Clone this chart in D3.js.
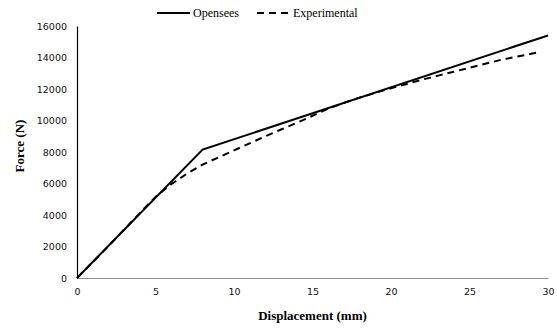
<!DOCTYPE html>
<html>
<head>
<meta charset="utf-8">
<script src="https://cdn.jsdelivr.net/npm/d3@7"></script>
<style>
  body { margin: 0; background: #fff; }
  svg { display: block; }
</style>
</head>
<body>
<svg id="chart" width="557" height="329"></svg>
<script>
"use strict";

// data
const xTicks = [0, 5, 10, 15, 20, 25, 30];
const yTicks = [0, 2000, 4000, 6000, 8000, 10000, 12000, 14000, 16000];

const openseesDisp = [0, 8, 30];
const openseesForce = [0, 8150, 15400];

const expDisp = [0, 1, 2, 3, 4, 5, 6, 7, 8, 9, 10, 11, 12, 13, 14, 15, 16, 17, 18, 19, 20, 21, 22, 23, 24, 25, 26, 27, 28, 29, 29.5];
const expForce = [0, 1000, 2020, 3070, 4120, 5150, 5950, 6620, 7200, 7650, 8100, 8550, 9000, 9430, 9850, 10300, 10750, 11120, 11450, 11750, 12050, 12320, 12600, 12850, 13100, 13350, 13600, 13850, 14050, 14250, 14350];

const seriesNames = ["Opensees", "Experimental"];


// layout
const margin = {left: 77, right: 9, top: 26, bottom: 51};
const width = 557, height = 329;

const svg = d3.select("#chart");

const scaleX = d3.scaleLinear().domain([0, 30]).range([margin.left, width - margin.right]);
const scaleY = d3.scaleLinear().domain([0, 16000]).range([height - margin.bottom, margin.top]);


// y axis
const yAxis = svg.append("g")
    .attr("class", "y_axis")
    .attr("transform", `translate(${margin.left}, 0)`)
    .call(d3.axisLeft(scaleY).tickValues(yTicks).tickSize(0).tickPadding(10).tickFormat(d3.format("d")));
yAxis.select(".domain").attr("stroke", "#000").attr("stroke-width", 1.2);
yAxis.selectAll("text")
    .attr("font-family", "DejaVu Sans, sans-serif")
    .attr("font-size", 9.5)
    .attr("fill", "#111");


// x axis
const xAxis = svg.append("g")
    .attr("class", "x_axis")
    .attr("transform", `translate(0, ${scaleY(0)})`)
    .call(d3.axisBottom(scaleX).tickValues(xTicks).tickSize(0).tickPadding(10));
xAxis.select(".domain").attr("stroke", "#8c8c8c").attr("stroke-width", 1);
xAxis.selectAll("text")
    .attr("font-family", "DejaVu Sans, sans-serif")
    .attr("font-size", 9.5)
    .attr("fill", "#111");


// axis titles
svg.append("text")
    .attr("x", (scaleX(0) + scaleX(30)) / 2)
    .attr("y", 320)
    .attr("text-anchor", "middle")
    .attr("font-family", "Liberation Serif, serif")
    .attr("font-weight", "bold")
    .attr("font-size", 13)
    .text("Displacement (mm)");

svg.append("text")
    .attr("transform", `translate(24, ${(scaleY(0) + scaleY(16000)) / 2 - 6}) rotate(-90)`)
    .attr("text-anchor", "middle")
    .attr("font-family", "Liberation Serif, serif")
    .attr("font-weight", "bold")
    .attr("font-size", 13)
    .text("Force (N)");


// lines
const line = d3.line()
    .x(d => scaleX(d[0]))
    .y(d => scaleY(d[1]));

const expData = expDisp.map((d, i) => [d, expForce[i]]);
const openseesData = openseesDisp.map((d, i) => [d, openseesForce[i]]);

svg.append("path")
    .datum(expData)
    .attr("d", line)
    .attr("fill", "none")
    .attr("stroke", "#000")
    .attr("stroke-width", 2)
    .attr("stroke-dasharray", "7,5");

svg.append("path")
    .datum(openseesData)
    .attr("d", line)
    .attr("fill", "none")
    .attr("stroke", "#000")
    .attr("stroke-width", 2);


// legend
const legend = svg.append("g").attr("class", "legend");
const legendItems = [
    {name: seriesNames[0], x1: 157, x2: 190, dash: null},
    {name: seriesNames[1], x1: 257, x2: 290, dash: "7,5"}
];
legendItems.forEach(e => {
    legend.append("line")
        .attr("x1", e.x1).attr("x2", e.x2)
        .attr("y1", 13).attr("y2", 13)
        .attr("stroke", "#000")
        .attr("stroke-width", 2)
        .attr("stroke-dasharray", e.dash);
    legend.append("text")
        .attr("x", e.x2 + 3)
        .attr("y", 17)
        .attr("font-family", "Liberation Serif, serif")
        .attr("font-size", 12)
        .text(e.name);
});
</script>
</body>
</html>
